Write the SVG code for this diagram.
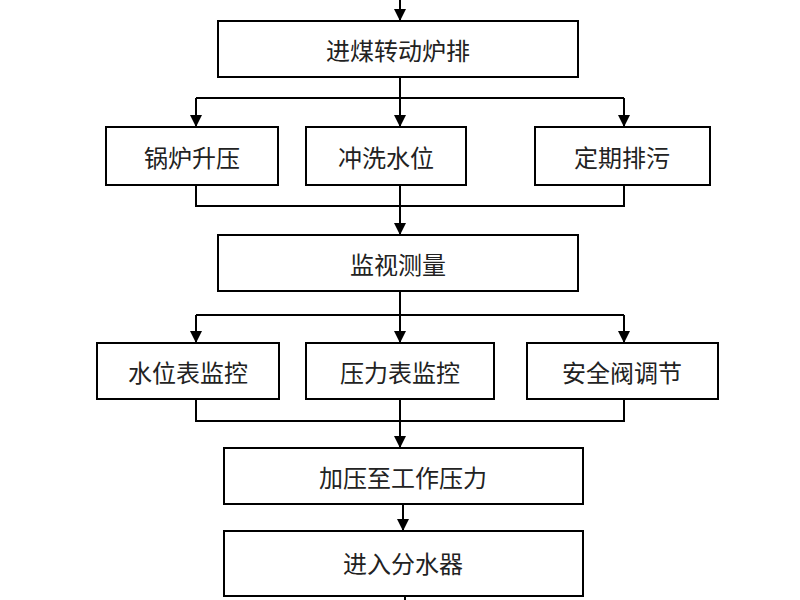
<svg xmlns="http://www.w3.org/2000/svg" width="800" height="600" viewBox="0 0 800 600">
<style>
.b{fill:#fff;stroke:#000;stroke-width:2}
.t{font-family:"Noto Sans CJK SC","Liberation Serif",serif;font-size:24px;fill:#222;text-anchor:middle;dominant-baseline:central}
.c{fill:none;stroke:#000;stroke-width:2}
</style>
<defs><marker id="a" viewBox="0 0 10 10" refX="10" refY="5" markerWidth="6" markerHeight="6" markerUnits="strokeWidth" orient="auto"><path d="M0,0L10,5L0,10z" fill="#000"/></marker></defs>
<rect width="800" height="600" fill="#fff"/>
<g id="connectors">
<path class="c" d="M400,0V21" marker-end="url(#a)"/>
<path class="c" d="M400,77V98M196,98H624"/>
<path class="c" d="M196,98V127" marker-end="url(#a)"/>
<path class="c" d="M400,98V127" marker-end="url(#a)"/>
<path class="c" d="M624,98V127" marker-end="url(#a)"/>
<path class="c" d="M196,185V206H624V185M400,185V235" marker-end="url(#a)"/>
<path class="c" d="M400,291V315M196,315H624"/>
<path class="c" d="M196,315V343" marker-end="url(#a)"/>
<path class="c" d="M400,315V343" marker-end="url(#a)"/>
<path class="c" d="M624,315V343" marker-end="url(#a)"/>
<path class="c" d="M196,399V421H624V399M400,399V448" marker-end="url(#a)"/>
<path class="c" d="M403,504V531" marker-end="url(#a)"/>
<path class="c" d="M405,596V600"/>
</g>
<g id="n1"><rect class="b" x="218" y="21" width="360" height="56"/><text class="t" x="398" y="49">进煤转动炉排</text></g>
<g id="n2"><rect class="b" x="106" y="127" width="172" height="58"/><text class="t" x="192" y="156">锅炉升压</text></g>
<g id="n3"><rect class="b" x="306" y="127" width="160" height="58"/><text class="t" x="386" y="156">冲洗水位</text></g>
<g id="n4"><rect class="b" x="535" y="127" width="175" height="58"/><text class="t" x="622" y="156">定期排污</text></g>
<g id="n5"><rect class="b" x="218" y="235" width="360" height="56"/><text class="t" x="398" y="263">监视测量</text></g>
<g id="n6"><rect class="b" x="97" y="343" width="182" height="56"/><text class="t" x="188" y="371">水位表监控</text></g>
<g id="n7"><rect class="b" x="306" y="343" width="188" height="56"/><text class="t" x="400" y="371">压力表监控</text></g>
<g id="n8"><rect class="b" x="527" y="343" width="191" height="56"/><text class="t" x="622" y="371">安全阀调节</text></g>
<g id="n9"><rect class="b" x="224" y="448" width="359" height="56"/><text class="t" x="403" y="476">加压至工作压力</text></g>
<g id="n10"><rect class="b" x="224" y="531" width="359" height="65"/><text class="t" x="403" y="562">进入分水器</text></g>
</svg>
